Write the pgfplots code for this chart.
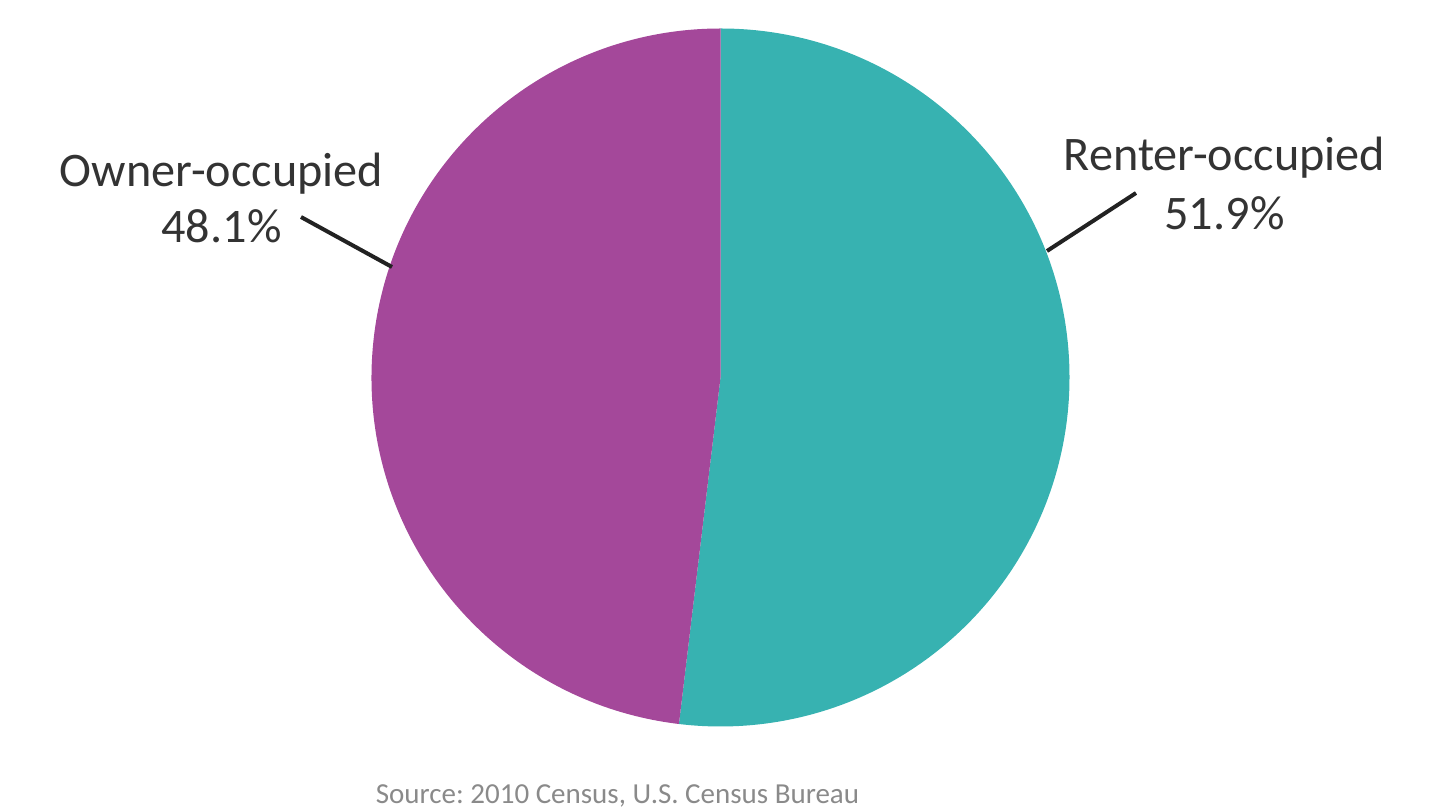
\documentclass[border=0pt]{standalone}
\usepackage{fontspec}
\setmainfont{Carlito}
\usepackage{pgfplots}
\usepackage{pgfplotstable}
\pgfplotsset{compat=1.18}
\definecolor{renter}{HTML}{37B2B1}
\definecolor{owner}{HTML}{A4489A}
\definecolor{leader}{HTML}{222222}
\definecolor{srcgray}{HTML}{8A8A8A}
\definecolor{labelcol}{HTML}{333333}
\frenchspacing

\pgfplotstableread{
category share
Renter 51.9
Owner 48.1
}\piedata
\pgfplotstablegetelem{0}{share}\of\piedata\let\rentershare\pgfplotsretval
\pgfplotstablegetelem{1}{share}\of\piedata\let\ownershare\pgfplotsretval
\pgfmathsetmacro\angA{90-3.6*\rentershare}
\pgfmathsetmacro\angB{\angA-3.6*\ownershare}

\begin{document}%
\begin{tikzpicture}
\begin{axis}[
  at={(0,0)}, anchor=origin,
  scale only axis, width=716.5bp, height=405.5bp,
  xmin=0, xmax=1433, ymin=0, ymax=811,
  hide axis, clip=false,
]
% pie slices (center at pixel 720.5,377.5; radius ~348 px)
\fill[renter] (axis cs:720.5,433.5) -- ++(90:174.5bp)
   arc[start angle=90, end angle=\angA, radius=174.5bp] -- cycle;
\fill[owner] (axis cs:720.5,433.5) -- ++(\angA:174.5bp)
   arc[start angle=\angA, end angle=\angB, radius=174.5bp] -- cycle;
% leader lines
\draw[leader, line width=2bp] (axis cs:301,594) -- (axis cs:392,544);
\draw[leader, line width=2bp] (axis cs:1136,618) -- (axis cs:1047,560);
% labels
\node[anchor=base, text=labelcol, font=\fontsize{24.1bp}{28bp}\selectfont, inner sep=0pt] at (axis cs:221.5,624) {Owner-occupied};
\node[anchor=base, text=labelcol, font=\fontsize{24.1bp}{28bp}\selectfont, inner sep=0pt] at (axis cs:221.5,568) {48.1\%};
\node[anchor=base, text=labelcol, font=\fontsize{24.1bp}{28bp}\selectfont, inner sep=0pt] at (axis cs:1224.5,640) {Renter-occupied};
\node[anchor=base, text=labelcol, font=\fontsize{24.1bp}{28bp}\selectfont, inner sep=0pt] at (axis cs:1224.5,581) {51.9\%};
\node[anchor=base, text=srcgray, font=\fontsize{14.5bp}{16bp}\selectfont, inner sep=0pt] at (axis cs:617.5,8) {Source: 2010 Census, U.S. Census Bureau};
\end{axis}
\pgfresetboundingbox
\useasboundingbox (0,0) rectangle (716.5bp,405.5bp);
\end{tikzpicture}%
\end{document}
